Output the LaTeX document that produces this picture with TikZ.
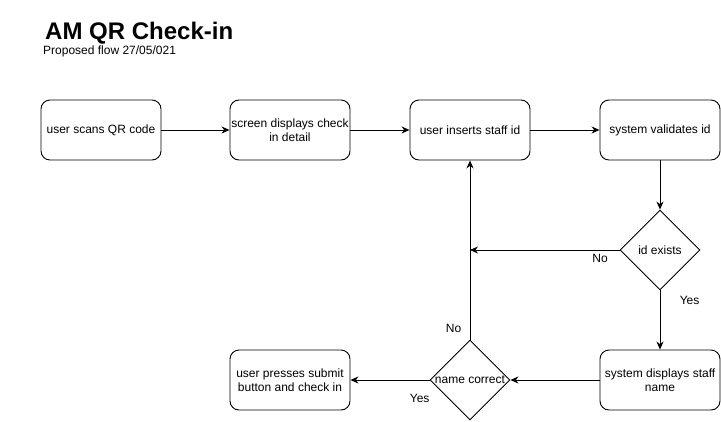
\documentclass[tikz,border=0pt]{standalone}
\usepackage{fontspec}
\setmainfont{Liberation Sans}
\usetikzlibrary{shapes.geometric,arrows.meta,positioning}

\begin{document}
\begin{tikzpicture}[x=1pt,y=-1pt,
  stepbox/.style={draw, line width=0.9pt, rounded corners=9pt, minimum width=120pt, minimum height=60pt, align=center, inner sep=1pt, font=\fontsize{12}{14}\selectfont},
  decision/.style={draw, line width=0.9pt, diamond, minimum width=80pt, minimum height=80pt, inner sep=0pt},
  flow/.style={-{Stealth[length=8pt,width=7pt]}, line width=0.9pt},
  tag/.style={font=\fontsize{12}{14}\selectfont}]
\useasboundingbox (0,0) rectangle (721,421);

\node[anchor=base west, inner sep=0pt, font=\bfseries\fontsize{24}{28}\selectfont] (title) at (45,39) {AM QR Check-in};
\node[anchor=base west, inner sep=0pt, tag] (sub) at (43,54) {Proposed flow 27/05/021};

\node[stepbox] (scan) at (101,130) {user scans QR code};
\node[stepbox] (screen) at (290,130) {screen displays check\\in detail};
\node[stepbox] (staff) at (470,130) {user inserts staff id};
\node[stepbox] (valid) at (660,130) {system validates id};
\node[decision, label={[tag]center:id exists}] (idok) at (660,250) {};
\node[stepbox] (show) at (660,380) {system displays staff\\name};
\node[decision, label={[tag]center:name correct}] (nameok) at (470,380) {};
\node[stepbox] (submit) at (290,380) {user presses submit\\button and check in};
\coordinate (back) at (nameok |- idok);

\draw[flow] (scan) -- (screen);
\draw[flow] (screen) -- (staff);
\draw[flow] (staff) -- (valid);
\draw[flow] (valid) -- (idok);
\draw[flow] (idok) -- node[tag, below, pos=0.13] {No} (back);
\draw[flow] (idok) -- node[tag, right=16pt, pos=0.17] {Yes} (show);
\draw[flow] (show) -- (nameok);
\draw[flow] (nameok) -- node[tag, left=5pt, pos=0.06] {No} (staff);
\draw[flow] (nameok) -- node[tag, below=10pt, pos=0.125] {Yes} (submit);
\end{tikzpicture}
\end{document}
